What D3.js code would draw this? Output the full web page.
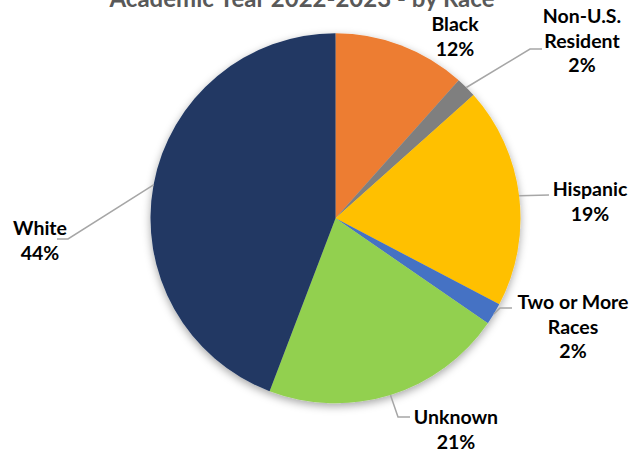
<!DOCTYPE html>
<html>
<head>
<meta charset="utf-8">
<script src="https://cdn.jsdelivr.net/npm/d3@7/dist/d3.min.js"></script>
<style>
  html, body { margin: 0; padding: 0; background: #fff; }
  svg { display: block; }
  text { font-family: Lato, "Open Sans", sans-serif; font-weight: 700; }
</style>
</head>
<body>
<svg id="chart" width="640" height="456"></svg>
<script>
// Enrollment share by race, academic year 2022-2023 (percent)
const categories = ["Black", "Non-U.S. Resident", "Hispanic", "Two or More Races", "Unknown", "White"];
const values = [11.6, 1.8, 19.3, 1.9, 21.2, 44.2];
const colors = ["#ED7D31", "#7F7F7F", "#FFC000", "#4472C4", "#92D050", "#203864"];
const titleText = "Academic Year 2022-2023 - by Race";

// Label text lines (category name wrapped as in the layout)
const labelLines = [["Black"], ["Non-U.S.", "Resident"], ["Hispanic"], ["Two or More", "Races"], ["Unknown"], ["White"]];

// Label placement: centre x, first baseline y, and leader path end points (elbow, end)
const labelLayout = [
  { x: 455, y: 31, leader: null },
  { x: 582, y: 23, leader: [[530, 49], [542, 49]] },
  { x: 590, y: 196, leader: [[549, 195]] },
  { x: 573, y: 309, leader: [[500, 308], [512, 308]] },
  { x: 456, y: 424, leader: [[398, 417], [410, 417]] },
  { x: 40, y: 235, leader: [[68, 239], [57, 239]] }
];

const width = 640, height = 456;
const cx = 335.5, cy = 218.3, radius = 185;
const lineHeight = 24.5;

const svg = d3.select("#chart");

const defs = svg.append("defs");
const shadow = defs.append("filter")
  .attr("id", "pieShadow")
  .attr("x", "-20%").attr("y", "-20%")
  .attr("width", "140%").attr("height", "140%");
shadow.append("feDropShadow")
  .attr("dx", 0).attr("dy", 3)
  .attr("stdDeviation", 4)
  .attr("flood-color", "#000")
  .attr("flood-opacity", 0.35);

// Title (partly above the top edge)
svg.append("text")
  .attr("x", 302)
  .attr("y", 7)
  .attr("text-anchor", "middle")
  .attr("font-size", 24)
  .attr("fill", "#595959")
  .text(titleText);

const data = categories.map((c, i) => ({ name: c, value: values[i], color: colors[i], lines: labelLines[i], layout: labelLayout[i] }));

const pie = d3.pie().sort(null).value(d => d.value);
const arc = d3.arc().innerRadius(0).outerRadius(radius);
const arcs = pie(data);

const g = svg.append("g").attr("transform", `translate(${cx},${cy})`);

g.append("g")
  .attr("filter", "url(#pieShadow)")
  .selectAll("path")
  .data(arcs)
  .join("path")
  .attr("d", arc)
  .attr("fill", d => d.data.color);

const pct = d3.format(".0f");

// Leader lines from slice mid-angle on the rim to the label
const rimPoint = d => {
  const a = (d.startAngle + d.endAngle) / 2;
  return [cx + radius * Math.sin(a), cy - radius * Math.cos(a)];
};

svg.append("g")
  .selectAll("path")
  .data(arcs.filter(d => d.data.layout.leader))
  .join("path")
  .attr("d", d => d3.line()([rimPoint(d), ...d.data.layout.leader]))
  .attr("fill", "none")
  .attr("stroke", "#A6A6A6")
  .attr("stroke-width", 1.5);

const labels = svg.append("g")
  .selectAll("text")
  .data(arcs)
  .join("text")
  .attr("text-anchor", "middle")
  .attr("font-size", 19.5)
  .attr("fill", "#000");

labels.each(function(d) {
  const t = d3.select(this);
  const lines = [...d.data.lines, pct(d.data.value) + "%"];
  lines.forEach((ln, i) => {
    t.append("tspan")
      .attr("x", d.data.layout.x)
      .attr("y", d.data.layout.y + i * lineHeight)
      .text(ln);
  });
});
</script>
</body>
</html>
